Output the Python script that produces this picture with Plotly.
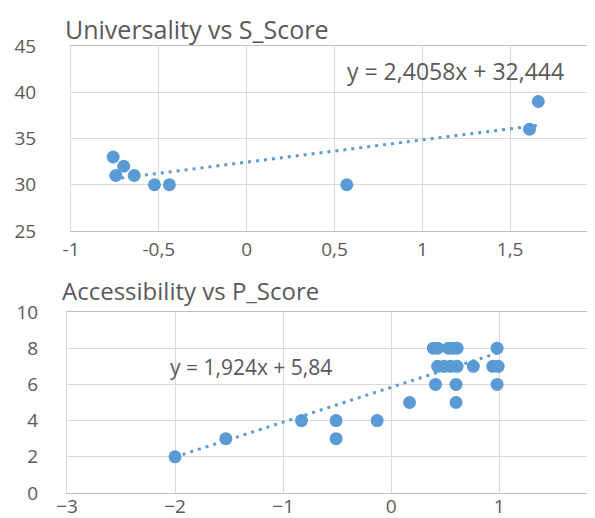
import plotly.graph_objects as go

# ---- Data: Universality vs S_Score ----
s_score = [-0.76, -0.70, -0.745, -0.64, -0.525, -0.44, 0.57, 1.61, 1.66]
universality = [33, 32, 31, 31, 30, 30, 30, 36, 39]
trend1_coef = [2.4058, 32.444]          # slope, intercept (from chart label)
trend1_label = "y = 2,4058x + 32,444"

# ---- Data: Accessibility vs P_Score ----
p_score = [-2.0, -1.53, -0.83, -0.51, -0.51, -0.13, 0.17, 0.60,
           0.41, 0.60, 0.98,
           0.43, 0.49, 0.55, 0.61, 0.76, 0.94, 0.99,
           0.39, 0.43, 0.53, 0.57, 0.61, 0.98]
accessibility = [2, 3, 4, 4, 3, 4, 5, 5,
                 6, 6, 6,
                 7, 7, 7, 7, 7, 7, 7,
                 8, 8, 8, 8, 8, 8]
trend2_coef = [1.924, 5.84]
trend2_label = "y = 1,924x + 5,84"

titles = ["Universality vs S_Score", "Accessibility vs P_Score"]
x1_ticks = [-1, -0.5, 0, 0.5, 1, 1.5, 2]
x1_ticktext = ["-1", "-0,5", "0", "0,5", "1", "1,5", "2"]
y1_ticks = [25, 30, 35, 40, 45]
x2_ticks = [-3, -2, -1, 0, 1, 2]
y2_ticks = [0, 2, 4, 6, 8, 10]

W, H = 595, 518
BLUE = "#5B9BD5"
GRID = "#D9D9D9"
TXT = "#595959"
FONT = "Open Sans"

def tline(xs, coef):
    x0, x1 = min(xs), max(xs)
    return [x0, x1], [coef[0] * x0 + coef[1], coef[0] * x1 + coef[1]]

fig = go.Figure()
lx, ly = tline(s_score, trend1_coef)
fig.add_trace(go.Scatter(x=lx, y=ly, mode="lines", xaxis="x", yaxis="y",
                         line=dict(color=BLUE, width=3, dash="3px,5px"), hoverinfo="skip"))
fig.add_trace(go.Scatter(x=s_score, y=universality, mode="markers", xaxis="x", yaxis="y",
                         marker=dict(color=BLUE, size=13)))
lx, ly = tline(p_score, trend2_coef)
fig.add_trace(go.Scatter(x=lx, y=ly, mode="lines", xaxis="x2", yaxis="y2",
                         line=dict(color=BLUE, width=3, dash="3px,5px"), hoverinfo="skip"))
fig.add_trace(go.Scatter(x=p_score, y=accessibility, mode="markers", xaxis="x2", yaxis="y2",
                         marker=dict(color=BLUE, size=13)))

tickfont = dict(family=FONT, size=19, color=TXT)
axcommon = dict(showgrid=True, gridcolor=GRID, gridwidth=1, zeroline=False,
                showline=True, linecolor=GRID, linewidth=1, mirror=True,
                tickfont=tickfont, ticks="", automargin=False, fixedrange=True)

fig.update_layout(
    width=W, height=H, template="none",
    margin=dict(l=0, r=0, t=0, b=0),
    paper_bgcolor="white", plot_bgcolor="white",
    showlegend=False,
    xaxis=dict(domain=[63 / W, 590 / W], range=[-1, 2], tickvals=x1_ticks,
               ticktext=x1_ticktext, anchor="y", ticklabelstandoff=1,
               ticklabeloverflow="allow", **axcommon),
    yaxis=dict(domain=[1 - 223 / H, 1 - 38 / H], range=[25, 45], tickvals=y1_ticks,
               anchor="x", ticklabelstandoff=30, **axcommon),
    xaxis2=dict(domain=[59 / W, 1.0], range=[-3, 1.96], tickvals=x2_ticks,
                anchor="y2", ticklabelstandoff=-4, **axcommon),
    yaxis2=dict(domain=[1 - 485 / H, 1 - 304 / H], range=[0, 10], tickvals=y2_ticks,
                anchor="x2", ticklabelstandoff=24, **axcommon),
    annotations=[
        dict(text=titles[0], xref="paper", yref="paper", x=55 / W, y=1 - 21 / H,
             xanchor="left", yanchor="middle", showarrow=False,
             font=dict(family=FONT, size=25, color=TXT)),
        dict(text=titles[1], xref="paper", yref="paper", x=52 / W, y=1 - 282 / H,
             xanchor="left", yanchor="middle", showarrow=False,
             font=dict(family=FONT, size=24, color=TXT)),
        dict(text=trend1_label, xref="x", yref="y", x=1.19, y=42.3,
             xanchor="center", yanchor="middle", showarrow=False,
             font=dict(family=FONT, size=23, color=TXT)),
        dict(text=trend2_label, xref="x2", yref="y2", x=-1.30, y=6.96,
             xanchor="center", yanchor="middle", showarrow=False,
             font=dict(family=FONT, size=21, color=TXT)),
    ],
)
fig.update_xaxes(linecolor="#BFBFBF")
fig.write_html("out.html")
